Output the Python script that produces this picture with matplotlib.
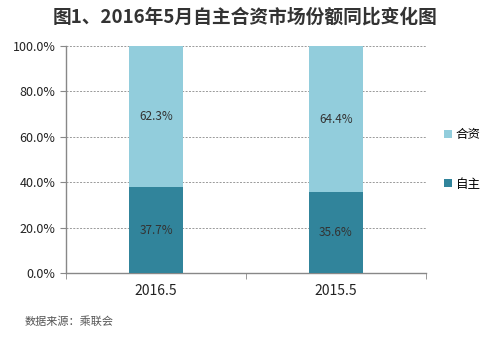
import matplotlib
matplotlib.use("Agg")
import matplotlib.pyplot as plt
import numpy as np

plt.rcParams['font.family'] = ['Noto Sans CJK SC', 'DejaVu Sans']

categories = ["2016.5", "2015.5"]
own_brand = [37.7, 35.6]      # 自主
joint_venture = [62.3, 64.4]  # 合资
series_names = ["自主", "合资"]
colors = ["#31849B", "#92CDDC"]

fig = plt.figure(figsize=(5, 3.37), dpi=100)
ax = fig.add_axes([0.132, 0.19, 0.72, 0.6735])

x = np.arange(len(categories))
width = 0.3
b1 = ax.bar(x, own_brand, width, color=colors[0], label=series_names[0], zorder=3)
b2 = ax.bar(x, joint_venture, width, bottom=own_brand, color=colors[1], label=series_names[1], zorder=3)

for rect, v in zip(b1, own_brand):
    ax.text(rect.get_x() + rect.get_width() / 2, v / 2, f"{v:.1f}%",
            ha="center", va="center", fontsize=8.5, color="#333333", zorder=4)
for rect, base, v in zip(b2, own_brand, joint_venture):
    ax.text(rect.get_x() + rect.get_width() / 2, base + v / 2, f"{v:.1f}%",
            ha="center", va="center", fontsize=8.5, color="#333333", zorder=4)

ax.set_xlim(-0.5, len(categories) - 0.5)
ax.set_ylim(0, 100)
ax.set_yticks(np.arange(0, 101, 20))
ax.set_yticklabels([f"{t:.1f}%" for t in np.arange(0, 101, 20)], fontsize=9, color="#222222")
ax.set_xticks(x)
ax.set_xticklabels(categories, fontsize=10, color="#222222")
ax.tick_params(axis="x", length=0, pad=8)
ax.set_xticks([-0.5, 0.5, 1.5], minor=True)
ax.tick_params(axis="x", which="minor", length=4, color="#888888", direction="out")
ax.tick_params(axis="y", length=4, color="#888888", direction="out")

ax.grid(axis="y", linestyle=(0, (2, 1.5)), color="#999999", linewidth=0.7, zorder=0)
for s in ["top", "right"]:
    ax.spines[s].set_visible(False)
for s in ["left", "bottom"]:
    ax.spines[s].set_color("#888888")
    ax.spines[s].set_linewidth(1)

handles, labels = ax.get_legend_handles_labels()
leg = ax.legend(handles[::-1], labels[::-1], loc="center left", bbox_to_anchor=(1.02, 0.5),
                frameon=False, fontsize=9, handlelength=0.6, handleheight=0.6,
                handletextpad=0.3, labelspacing=2.9)

fig.text(0.49, 0.95, "图1、2016年5月自主合资市场份额同比变化图", ha="center", va="center",
         fontsize=13.5, fontweight="bold", color="#333333")
fig.text(0.05, 0.045, "数据来源：乘联会", ha="left", va="center", fontsize=8,
         style="italic", color="#555555")

fig.savefig("out.png", dpi=100)
